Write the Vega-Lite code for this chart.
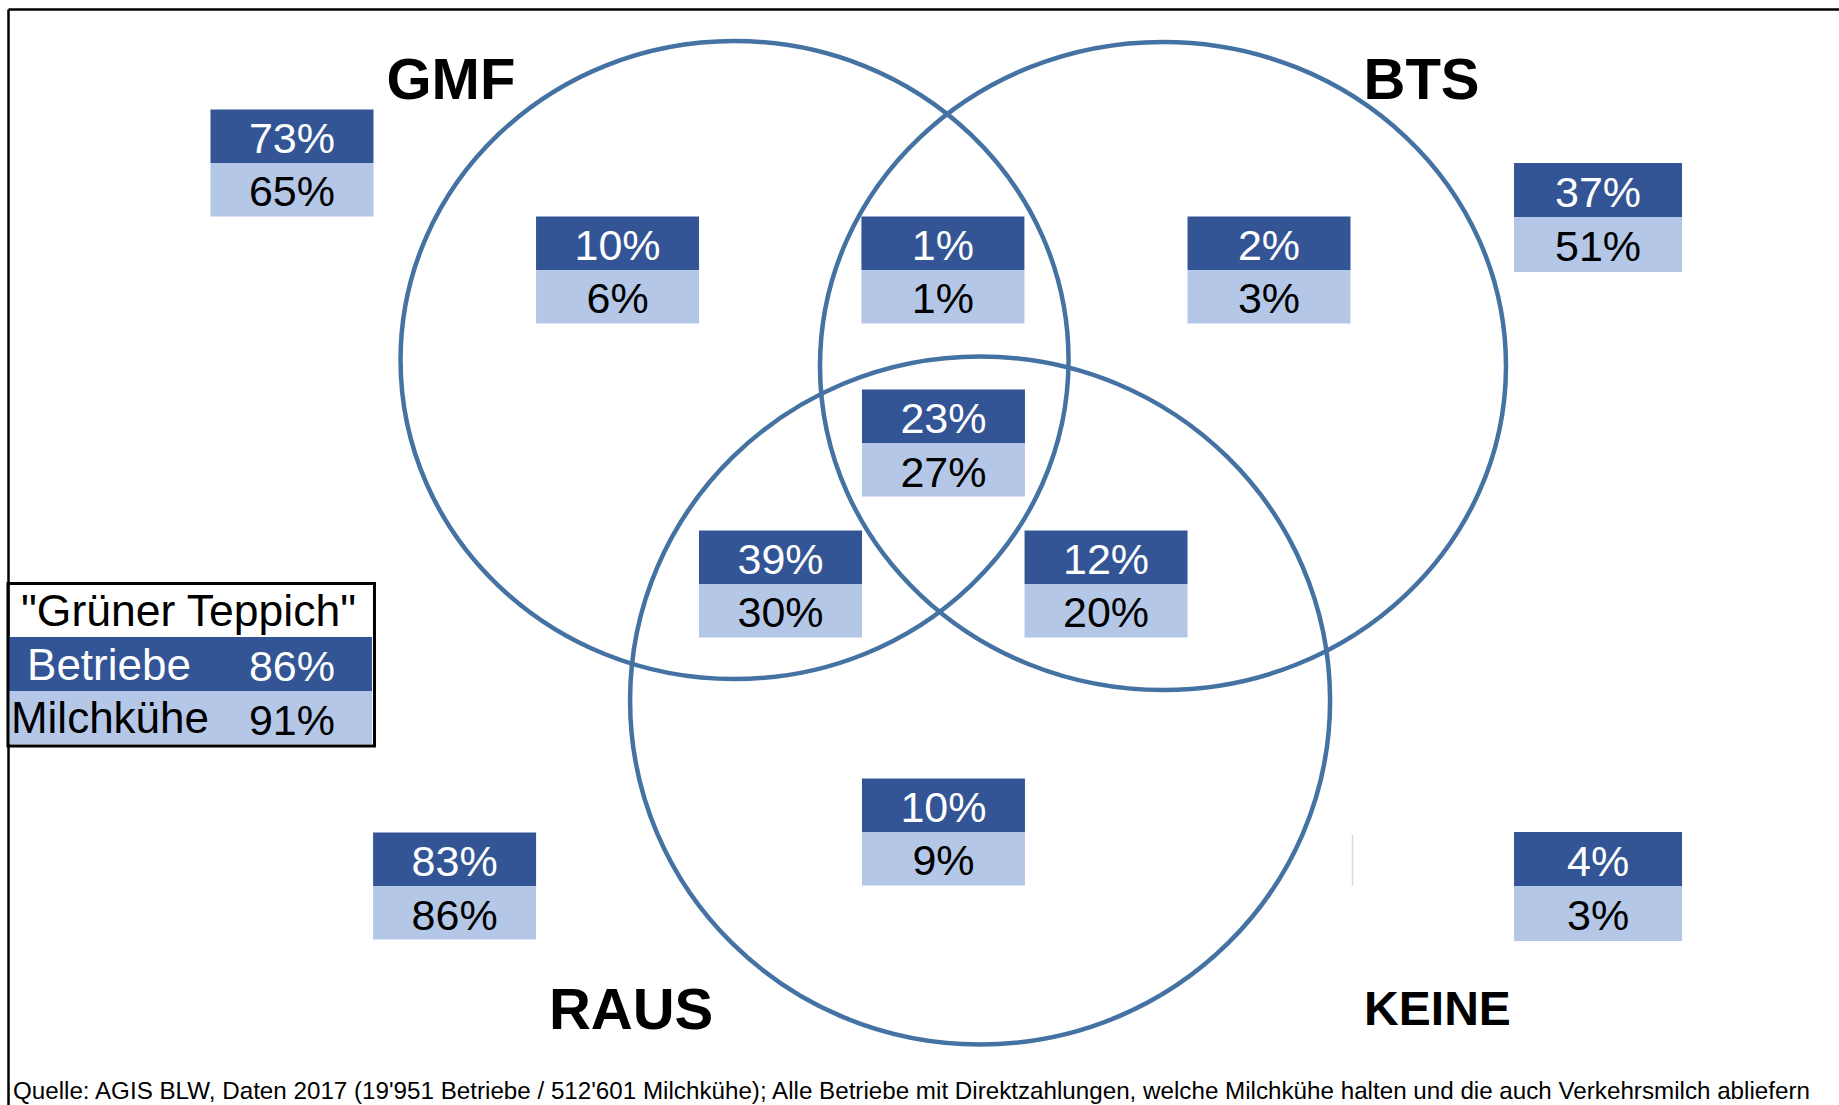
{
  "$schema": "https://vega.github.io/schema/vega-lite/v6.json",
  "width": 1831,
  "height": 1096,
  "autosize": {"type": "none"},
  "padding": {"left": 8, "top": 9, "right": 0, "bottom": 0},
  "background": "white",
  "config": {"view": {"stroke": null}},
  "datasets": {
    "mengen": [
      {"menge": "GMF", "x": 39.68, "y": 32.03},
      {"menge": "BTS", "x": 63.08, "y": 32.57},
      {"menge": "RAUS", "x": 53.09, "y": 63.09}
    ],
    "felder": [
      {"bereich": "GMF gesamt", "x": 15.51, "y": 14.05, "betriebe": 0.73, "milchkuehe": 0.65},
      {"bereich": "BTS gesamt", "x": 86.84, "y": 18.98, "betriebe": 0.37, "milchkuehe": 0.51},
      {"bereich": "RAUS gesamt", "x": 24.39, "y": 80.02, "betriebe": 0.83, "milchkuehe": 0.86},
      {"bereich": "keine", "x": 86.84, "y": 80.02, "betriebe": 0.04, "milchkuehe": 0.03},
      {"bereich": "nur GMF", "x": 33.29, "y": 23.81, "betriebe": 0.10, "milchkuehe": 0.06},
      {"bereich": "GMF und BTS", "x": 51.06, "y": 23.81, "betriebe": 0.01, "milchkuehe": 0.01},
      {"bereich": "nur BTS", "x": 68.87, "y": 23.81, "betriebe": 0.02, "milchkuehe": 0.03},
      {"bereich": "GMF, BTS und RAUS", "x": 51.09, "y": 39.60, "betriebe": 0.23, "milchkuehe": 0.27},
      {"bereich": "GMF und RAUS", "x": 42.19, "y": 52.46, "betriebe": 0.39, "milchkuehe": 0.30},
      {"bereich": "BTS und RAUS", "x": 59.97, "y": 52.46, "betriebe": 0.12, "milchkuehe": 0.20},
      {"bereich": "nur RAUS", "x": 51.09, "y": 75.09, "betriebe": 0.10, "milchkuehe": 0.09},
      {"bereich": "Grüner Teppich", "x": 15.51, "y": 62.23, "betriebe": 0.86, "milchkuehe": 0.91}
    ],
    "namen": [
      {"name": "GMF", "x": 24.19, "y": 8.21},
      {"name": "BTS", "x": 77.20, "y": 8.21},
      {"name": "RAUS", "x": 34.03, "y": 93.07},
      {"name": "KEINE", "x": 78.07, "y": 92.70}
    ],
    "quelle": [
      {"text": "Quelle: AGIS BLW, Daten 2017 (19'951 Betriebe / 512'601 Milchkühe); Alle Betriebe mit Direktzahlungen, welche Milchkühe halten und die auch Verkehrsmilch abliefern", "x": 0.27, "y": 99.45}
    ],
    "strich": [
      {"x": 73.43, "y": 75.36, "y2": 79.97}
    ]
  },
  "encoding": {
    "x": {
      "field": "x", "type": "quantitative",
      "scale": {"domain": [0, 100], "nice": false, "zero": false},
      "axis": {"orient": "top", "domain": true, "domainColor": "#000000", "domainWidth": 2.5, "ticks": false, "labels": false, "grid": false, "title": null}
    },
    "y": {
      "field": "y", "type": "quantitative",
      "scale": {"domain": [0, 100], "nice": false, "zero": false, "reverse": true},
      "axis": {"orient": "left", "domain": true, "domainColor": "#000000", "domainWidth": 2.5, "ticks": false, "labels": false, "grid": false, "title": null}
    }
  },
  "layer": [
    {
      "data": {"name": "strich"},
      "mark": {"type": "rule", "color": "#d9d9d9", "strokeWidth": 1.5},
      "encoding": {"y2": {"field": "y2"}}
    },
    {
      "data": {"name": "mengen"},
      "mark": {"type": "point", "filled": false, "color": "#4472a2", "strokeWidth": 4.5, "size": 4, "opacity": 1},
      "encoding": {
        "shape": {
          "field": "menge", "type": "nominal", "legend": null,
          "scale": {
            "domain": ["GMF", "BTS", "RAUS"],
            "range": [
              "M-334,0A334,319 0 1,0 334,0A334,319 0 1,0 -334,0Z",
              "M-343,0A343,324 0 1,0 343,0A343,324 0 1,0 -343,0Z",
              "M-350,0A350,344 0 1,0 350,0A350,344 0 1,0 -350,0Z"
            ]
          }
        }
      }
    },
    {
      "data": {"name": "felder"},
      "mark": {"type": "point", "filled": true, "color": "#335596", "size": 4, "opacity": 1},
      "encoding": {
        "shape": {
          "condition": [
            {"test": "datum.bereich === 'Grüner Teppich'", "value": "M-284,-54H80V0H-284Z"},
            {"test": "datum.bereich === 'BTS gesamt' || datum.bereich === 'keine'", "value": "M-84,-54H84V0H-84Z"}
          ],
          "value": "M-81.5,-53.5H81.5V0H-81.5Z"
        }
      }
    },
    {
      "data": {"name": "felder"},
      "mark": {"type": "point", "filled": true, "color": "#b4c7e7", "size": 4, "opacity": 1},
      "encoding": {
        "shape": {
          "condition": [
            {"test": "datum.bereich === 'Grüner Teppich'", "value": "M-284,0H80V53H-284Z"},
            {"test": "datum.bereich === 'BTS gesamt' || datum.bereich === 'keine'", "value": "M-84,0H84V55H-84Z"}
          ],
          "value": "M-81.5,0H81.5V53.5H-81.5Z"
        }
      }
    },
    {
      "data": {"name": "felder"},
      "transform": [{"filter": "datum.bereich === 'Grüner Teppich'"}],
      "mark": {"type": "point", "filled": false, "color": "#000000", "strokeWidth": 3, "size": 4, "opacity": 1, "shape": "M-284,-107.5H82.5V55H-284Z"}
    },
    {
      "data": {"name": "felder"},
      "mark": {"type": "text", "font": "Liberation Sans", "fontSize": 43, "color": "#ffffff", "align": "center", "baseline": "alphabetic", "dy": -10},
      "encoding": {"text": {"field": "betriebe", "type": "quantitative", "format": ".0%"}}
    },
    {
      "data": {"name": "felder"},
      "mark": {"type": "text", "font": "Liberation Sans", "fontSize": 43, "color": "#000000", "align": "center", "baseline": "alphabetic", "dy": 43.5},
      "encoding": {"text": {"field": "milchkuehe", "type": "quantitative", "format": ".0%"}}
    },
    {
      "data": {"name": "felder"},
      "transform": [{"filter": "datum.bereich === 'Grüner Teppich'"}],
      "mark": {"type": "text", "font": "Liberation Sans", "fontSize": 44, "color": "#ffffff", "align": "center", "baseline": "alphabetic", "dx": -183, "dy": -11},
      "encoding": {"text": {"value": "Betriebe"}}
    },
    {
      "data": {"name": "felder"},
      "transform": [{"filter": "datum.bereich === 'Grüner Teppich'"}],
      "mark": {"type": "text", "font": "Liberation Sans", "fontSize": 44, "color": "#000000", "align": "center", "baseline": "alphabetic", "dx": -182, "dy": 42},
      "encoding": {"text": {"value": "Milchkühe"}}
    },
    {
      "data": {"name": "felder"},
      "transform": [{"filter": "datum.bereich === 'Grüner Teppich'"}],
      "mark": {"type": "text", "font": "Liberation Sans", "fontSize": 44.5, "color": "#000000", "align": "center", "baseline": "alphabetic", "dx": -103.5, "dy": -65},
      "encoding": {"text": {"value": "\"Grüner Teppich\""}}
    },
    {
      "data": {"name": "namen"},
      "mark": {"type": "text", "font": "Liberation Sans", "fontWeight": "bold", "color": "#000000", "align": "center", "baseline": "alphabetic"},
      "encoding": {
        "text": {"field": "name", "type": "nominal"},
        "size": {"condition": {"test": "datum.name === 'KEINE'", "value": 48}, "value": 58}
      }
    },
    {
      "data": {"name": "quelle"},
      "mark": {"type": "text", "font": "Liberation Sans", "fontSize": 24.2, "color": "#000000", "align": "left", "baseline": "alphabetic"},
      "encoding": {"text": {"field": "text", "type": "nominal"}}
    }
  ]
}
